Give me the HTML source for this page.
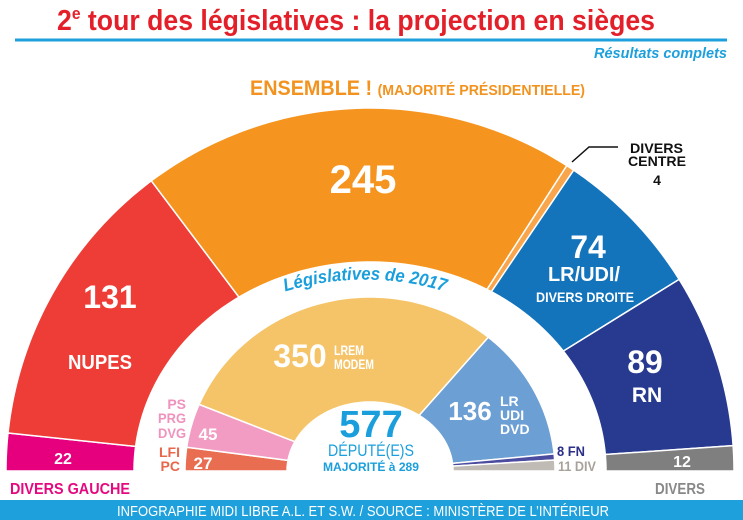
<!DOCTYPE html>
<html><head><meta charset="utf-8"><style>
html,body{margin:0;padding:0;background:#fff;}
svg{display:block;}
text{font-family:"Liberation Sans Narrow","Liberation Sans",sans-serif;font-weight:bold;}
</style></head><body>
<svg id="s" width="743" height="520" viewBox="0 0 743 520" xmlns="http://www.w3.org/2000/svg">
<g id="segs"></g>
<text x="356" y="30" font-size="29" fill="#e3202a" text-anchor="middle" textLength="598" lengthAdjust="spacingAndGlyphs">2<tspan font-size="17" dy="-11">e</tspan><tspan dy="11"> tour des législatives : la projection en sièges</tspan></text>
<rect x="15" y="38.5" width="712" height="3" fill="#1ea0dc"/>
<text x="727" y="58" font-size="15" font-style="italic" fill="#1ea0dc" text-anchor="end" textLength="133" lengthAdjust="spacingAndGlyphs">Résultats complets</text>
<text x="250" y="95" font-size="21" fill="#f3931f" textLength="335" lengthAdjust="spacingAndGlyphs">ENSEMBLE ! <tspan font-size="15">(MAJORITÉ PRÉSIDENTIELLE)</tspan></text>

<path id="arcp" d="M 250 305 A 273 273 0 0 1 480 305" fill="none"/>
<text font-size="18" font-style="italic" fill="#1a9fdc"><textPath href="#arcp" startOffset="50%" text-anchor="middle" textLength="162" lengthAdjust="spacingAndGlyphs">Législatives de 2017</textPath></text>

<g fill="#fff" text-anchor="middle">
<text x="110" y="308" font-size="32">131</text>
<text x="100" y="369" font-size="20" textLength="64" lengthAdjust="spacingAndGlyphs">NUPES</text>
<text x="63" y="464" font-size="16">22</text>
<text x="363" y="193" font-size="40">245</text>
<text x="588" y="258" font-size="32">74</text>
<text x="584" y="281" font-size="20" textLength="72" lengthAdjust="spacingAndGlyphs">LR/UDI/</text>
<text x="585" y="302" font-size="14" textLength="98" lengthAdjust="spacingAndGlyphs">DIVERS DROITE</text>
<text x="645" y="373" font-size="32">89</text>
<text x="647" y="402" font-size="21">RN</text>
<text x="682" y="467" font-size="16">12</text>
<text x="300" y="367" font-size="32">350</text>
<text x="470" y="420" font-size="26">136</text>
<text x="208" y="440" font-size="17">45</text>
<text x="203" y="469" font-size="17">27</text>
</g>
<g fill="#fff" font-size="14">
<text x="334" y="355" textLength="30" lengthAdjust="spacingAndGlyphs">LREM</text><text x="334" y="369" textLength="40" lengthAdjust="spacingAndGlyphs">MODEM</text>
<text x="500" y="406">LR</text><text x="500" y="420">UDI</text><text x="500" y="434">DVD</text>
</g>
<g fill="#f092be" font-size="14" text-anchor="end">
<text x="186" y="409">PS</text><text x="186" y="423" textLength="28" lengthAdjust="spacingAndGlyphs">PRG</text><text x="186" y="438" textLength="28" lengthAdjust="spacingAndGlyphs">DVG</text>
</g>
<g fill="#e8674b" font-size="14" text-anchor="end">
<text x="180" y="457">LFI</text><text x="180" y="471">PC</text>
</g>
<text x="557" y="456" font-size="14" fill="#2b2f88" textLength="28" lengthAdjust="spacingAndGlyphs">8 FN</text>
<text x="558" y="471" font-size="14" fill="#a8a29b" textLength="38" lengthAdjust="spacingAndGlyphs">11 DIV</text>
<g fill="#1a9fdc" text-anchor="middle">
<text x="371" y="437" font-size="38">577</text>
<text x="371" y="456" font-size="17" style="font-weight:normal" textLength="86" lengthAdjust="spacingAndGlyphs">DÉPUTÉ(E)S</text>
<text x="371" y="471" font-size="12" textLength="96" lengthAdjust="spacingAndGlyphs">MAJORITÉ à 289</text>
</g>
<polyline points="572,162 589,147 618,147" fill="none" stroke="#111" stroke-width="1.5"/>
<text x="630" y="153" font-size="14" fill="#111" textLength="53" lengthAdjust="spacingAndGlyphs">DIVERS</text>
<text x="628" y="166" font-size="14" fill="#111" textLength="58" lengthAdjust="spacingAndGlyphs">CENTRE</text>
<text x="657" y="185" font-size="14" fill="#111" text-anchor="middle">4</text>
<text x="10" y="494" font-size="16" fill="#e5097f" textLength="120" lengthAdjust="spacingAndGlyphs">DIVERS GAUCHE</text>
<text x="705" y="494" font-size="16" fill="#888" text-anchor="end" textLength="50" lengthAdjust="spacingAndGlyphs">DIVERS</text>
<rect x="0" y="500" width="743" height="20" fill="#1ea0dc"/>
<text x="363" y="516" font-size="15" fill="#fff" style="font-weight:normal" text-anchor="middle" textLength="492" lengthAdjust="spacingAndGlyphs">INFOGRAPHIE MIDI LIBRE A.L. ET S.W. / SOURCE : MINISTÈRE DE L’INTÉRIEUR</text>
</svg>
<script>
(function(){
var cx=370,cy=471;
function pt(th,a,b){var p=(180-th)*Math.PI/180,c=Math.cos(p),s=Math.sin(p);var r=1/Math.sqrt(c*c/(a*a)+s*s/(b*b));return [cx+r*c,cy-r*s];}
function seg(t1,t2,o,i,col){var d="",n=60,k,q;for(k=0;k<=n;k++){q=pt(t1+(t2-t1)*k/n,o[0],o[1]);d+=(k?"L":"M")+q[0].toFixed(2)+" "+q[1].toFixed(2);}
for(k=n;k>=0;k--){q=pt(t1+(t2-t1)*k/n,i[0],i[1]);d+="L"+q[0].toFixed(2)+" "+q[1].toFixed(2);}
return '<path d="'+d+'Z" fill="'+col+'" stroke="#fff" stroke-width="1.5" stroke-linejoin="round"/>';}
var O=[364,363],I=[236,209],O2=[185,174],I2=[83,69];
var outer=[[0,6,"#e6007e"],[6,53,"#ee3d36"],[53,122.8,"#f5951f"],[122.8,124.1,"#f8a54b"],[124.1,148.2,"#1374bb"],[148.2,176,"#283a8f"],[176,180,"#7f7f80"]];
var inner=[[0,7.4,"#e86d51"],[7.4,21.3,"#f29cc3"],[21.3,131.5,"#f5c468"],[131.5,174.7,"#6c9fd4"],[174.7,176.6,"#4b4ba0"],[176.6,180,"#c0bbb5"]];
var h="";outer.forEach(function(s){h+=seg(s[0],s[1],O,I,s[2]);});inner.forEach(function(s){h+=seg(s[0],s[1],O2,I2,s[2]);});
document.getElementById("segs").innerHTML=h;
})();
</script>
</body></html>
